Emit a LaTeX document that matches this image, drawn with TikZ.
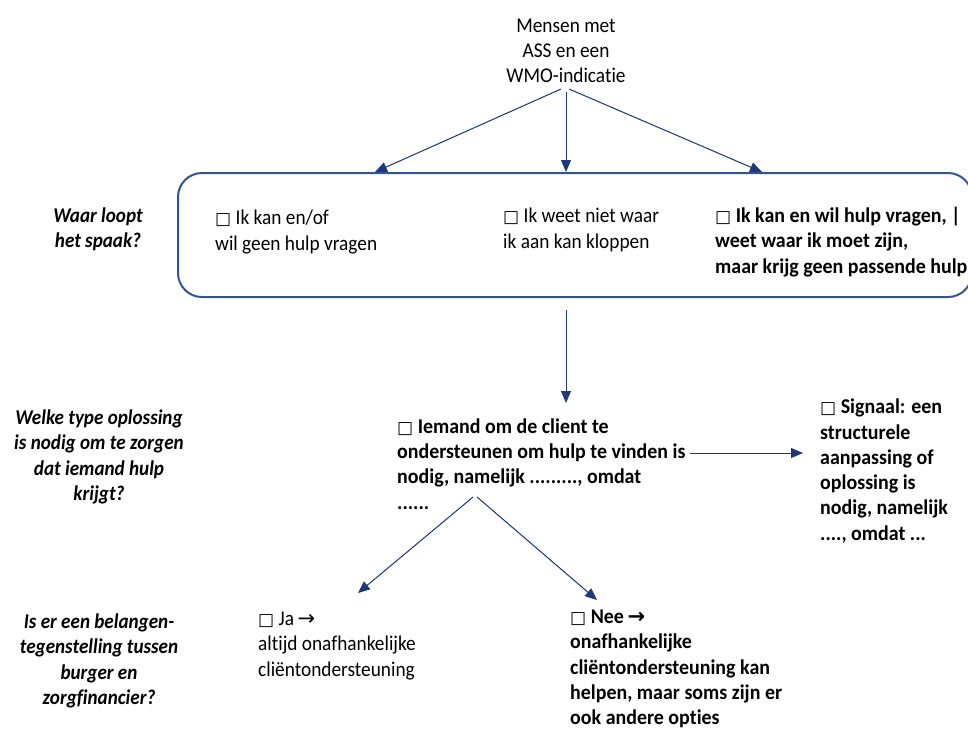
\documentclass[tikz,border=0pt]{standalone}
\usepackage{fontspec}
\setmainfont{Carlito}[FakeStretch=0.92, Ligatures=NoCommon,
  BoldFeatures={FakeStretch=0.95}, BoldItalicFeatures={FakeStretch=0.91}]
\newfontfamily\symf{DejaVu Sans}
\usetikzlibrary{arrows.meta}
\newcommand{\bxs}{{\symf\fontsize{17}{17}\selectfont □}}
\newcommand{\arw}{{\symf\fontsize{21}{21}\selectfont →}}
\definecolor{navy}{RGB}{31,56,120}
\definecolor{boxblue}{RGB}{47,85,151}
\begin{document}
\begin{tikzpicture}[x=1pt,y=-1pt,
  txt/.style={inner sep=0pt, font=\fontsize{21}{25.3}\selectfont, align=left, anchor=west},
  btxt/.style={txt, font=\fontsize{21}{25.3}\selectfont\bfseries},
  quest/.style={inner sep=0pt, font=\fontsize{21}{25.3}\selectfont\bfseries\itshape, align=center},
  arr/.style={-{Triangle[length=12pt,width=10pt]}, draw=navy, fill=navy, line width=1pt},
  frame/.style={draw=boxblue, line width=2pt, rounded corners=24pt, minimum width=794pt, minimum height=124pt, inner sep=0pt}
]
\useasboundingbox (0,0) rectangle (968,729);

\node[txt, align=center, anchor=center] (top) at (566,51) {Mensen met\\ASS en een\\WMO-indicatie};

\node[frame] (box) at (575,235) {};

\coordinate (apexL) at (561,89);
\coordinate (apexM) at (566,92);
\coordinate (apexR) at (569,89);
\coordinate (endL) at (375,172);
\coordinate (endM) at (566,172);
\coordinate (endR) at (762,172);
\draw[arr] (apexL) -- (endL);
\draw[arr] (apexM) -- (endM);
\draw[arr] (apexR) -- (endR);

\node[quest] (waar) at (98,229) {Waar loopt\\het spaak?};
\node[txt] (b1) at (215,232) {\bxs{} Ik kan en/of\\wil geen hulp vragen};
\node[txt] (b2) at (503,230) {\bxs{} Ik weet niet waar\\ik aan kan kloppen};
\node[btxt] (b3) at (715,242) {\bxs{} Ik kan en wil hulp vragen, |\\weet waar ik moet zijn,\\maar krijg geen passende hulp};

\coordinate (boxout) at (566,310);
\coordinate (midin) at (566,403);
\draw[arr] (boxout) -- (midin);

\node[quest] (welke) at (99,457) {Welke type oplossing\\is nodig om te zorgen\\dat iemand hulp\\krijgt?};
\node[btxt] (mid) at (397,464) {\bxs{} Iemand om de client te\\ondersteunen om hulp te vinden is\\nodig, namelijk ........., omdat\\......};
\node[btxt] (sig) at (820,471) {\bxs{} Signaal: een\\structurele\\aanpassing of\\oplossing is\\nodig, namelijk\\...., omdat ...};

\coordinate (midout) at (690,453);
\coordinate (sigin) at (803,453);
\draw[arr] (midout) -- (sigin);

\coordinate (forkL) at (473,497);
\coordinate (forkR) at (477,497);
\coordinate (jain) at (358,593);
\coordinate (neein) at (597,600);
\draw[arr] (forkL) -- (jain);
\draw[arr] (forkR) -- (neein);

\node[quest] (isq) at (99,661) {Is er een belangen-\\tegenstelling tussen\\burger en\\zorgfinancier?};
\node[txt] (ja) at (258,646) {\bxs{} Ja\,\arw\\altijd onafhankelijke\\cliëntondersteuning};
\node[btxt] (nee) at (570,669) {\bxs{} Nee\,{\bfseries\arw}\\onafhankelijke\\cliëntondersteuning kan\\helpen, maar soms zijn er\\ook andere opties};
\end{tikzpicture}
\end{document}
